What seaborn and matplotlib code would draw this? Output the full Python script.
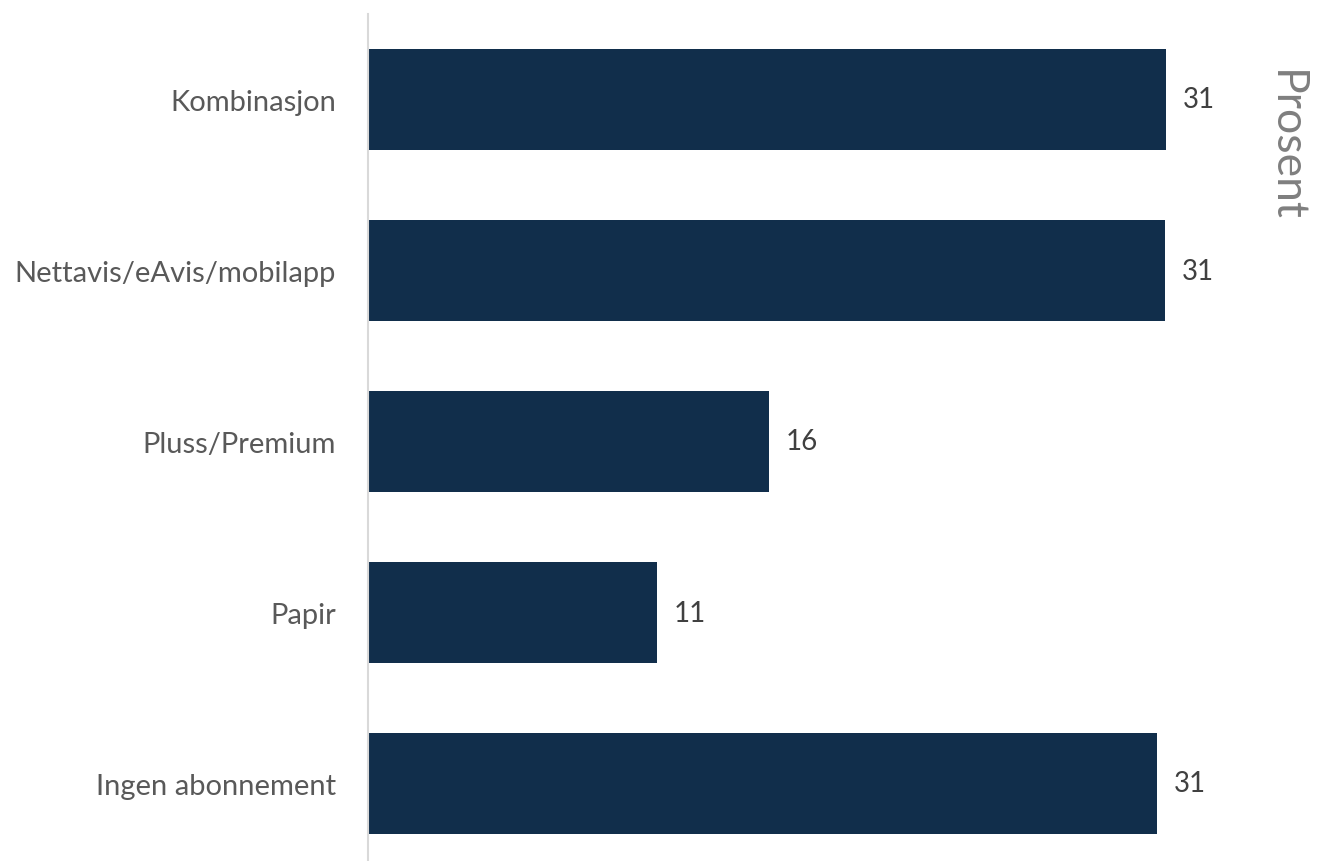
import matplotlib
matplotlib.use("Agg")
import matplotlib.pyplot as plt
import seaborn as sns
import pandas as pd

categories = ["Kombinasjon", "Nettavis/eAvis/mobilapp", "Pluss/Premium", "Papir", "Ingen abonnement"]
values = [31.17, 31.13, 15.66, 11.29, 30.82]
axis_title = "Prosent"

bar_color = "#112e4b"
tick_color = "#595959"
label_color = "#404040"

sns.set_theme(style="white")
plt.rcParams["font.family"] = ["Lato", "DejaVu Sans"]

df = pd.DataFrame({"kategori": categories, "prosent": values})

W, H = 1319, 862
fig = plt.figure(figsize=(W / 100, H / 100), dpi=100)
ax = fig.add_axes([368 / W, -8 / H, 896 / W, 855 / H])

sns.barplot(data=df, x="prosent", y="kategori", color=bar_color,
            width=0.585, saturation=1, linewidth=0, ax=ax)

ax.set_xlim(0, 35)
ax.set_xlabel("")
ax.set_ylabel("")
ax.set_xticks([])
for s in ["top", "right", "bottom"]:
    ax.spines[s].set_visible(False)
ax.spines["left"].set_color("#d9d9d9")
ax.spines["left"].set_linewidth(1.5)
ax.tick_params(axis="y", length=0, pad=23, labelsize=21, labelcolor=tick_color)

for cont in ax.containers:
    ax.bar_label(cont, labels=[f"{v:.0f}" for v in values], padding=12,
                 fontsize=20, color=label_color)

fig.text(1285 / W, 1 - 70 / H, axis_title, rotation=270, ha="center", va="top",
         fontsize=32, color="#7f7f7f")

fig.savefig("out.png", dpi=100)
